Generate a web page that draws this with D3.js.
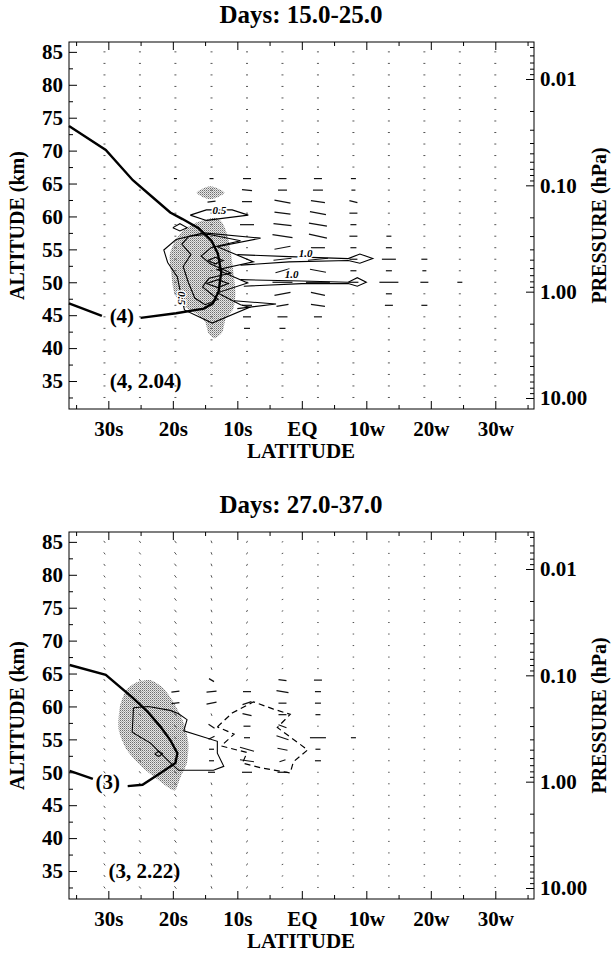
<!DOCTYPE html>
<html>
<head>
<meta charset="utf-8">
<script src="https://cdn.jsdelivr.net/npm/d3@7"></script>
<style>
body { margin: 0; background: #fff; }
text { font-family: "Liberation Serif", "Times New Roman", serif; font-weight: bold; fill: #000; }
</style>
</head>
<body>
<svg id="fig" width="613" height="953"></svg>
<script>
// axis ticks and labels
const latMajor = [-30, -20, -10, 0, 10, 20, 30];
const latLabels = ["30s", "20s", "10s", "EQ", "10w", "20w", "30w"];
const latMinor = [-35, -25, -15, -5, 5, 15, 25, 35];
const altMajor = [35, 40, 45, 50, 55, 60, 65, 70, 75, 80, 85];
const altMinor = [32.5, 37.5, 42.5, 47.5, 52.5, 57.5, 62.5, 67.5, 72.5, 77.5, 82.5];
const presMajor = [0.01, 0.1, 1, 10];
const presLabels = ["0.01", "0.10", "1.00", "10.00"];
const titles = ["Days: 15.0-25.0", "Days: 27.0-37.0"];

// wind vector grid
const gridLat = [-30.6, -25.1, -19.6, -14.0, -8.5, -3.0, 2.5, 8.0, 13.5, 19.0, 24.5, 30.0];
const gridAlt = [85, 83.25, 81.5, 79.75, 78, 76.25, 74.5, 72.75, 71, 69.25, 67.5, 65.75, 64, 62.25,
  60.5, 58.75, 57, 55.25, 53.5, 51.75, 50, 48.25, 46.5, 44.75, 43, 41.25, 39.5, 37.75, 36, 34.25, 32.5];

// panel 1 (days 15-25)
const p1ThickTail = [[-36.1, 46.8], [-31.0, 44.9]];
const p1Thick = [[-25.0, 44.6], [-19.5, 45.3], [-15.2, 46.0], [-13.8, 46.8], [-12.9, 48.6], [-12.5, 51.5],
  [-13.0, 54.3], [-14.0, 56.3], [-16.0, 58.2], [-18.5, 59.6], [-20.4, 60.6], [-23.0, 62.8], [-26.2, 65.5],
  [-30.4, 70.1], [-36.1, 73.75]];
const p1Shade = [[-13.5, 59.8], [-16.5, 59.0], [-18.5, 57.8], [-19.8, 56.0], [-20.5, 54.0], [-20.2, 51.0],
  [-19.8, 48.5], [-18.5, 46.5], [-16.5, 45.3], [-15.0, 44.0], [-14.5, 42.3], [-13.5, 41.5], [-12.3, 42.5],
  [-11.8, 44.5], [-10.6, 46.0], [-10.3, 48.5], [-10.6, 51.5], [-11.0, 54.5], [-11.5, 57.0], [-12.3, 59.0]];
const p1Blob = [[-16.3, 63.6], [-14.2, 64.6], [-12.0, 63.6], [-14.2, 62.6]];
const p1Contours = [
  [[-17.3, 60.2], [-14.8, 61.0], [-10.8, 61.0], [-8.3, 60.2], [-14.8, 59.4], [-17.3, 60.2]],
  [[-20.0, 58.3], [-18.9, 58.9], [-17.8, 58.3], [-18.9, 57.8], [-20.0, 58.3]],
  [[-15.2, 57.5], [-6.4, 56.7], [-13.1, 55.4], [-7.5, 53.1], [-13.1, 51.9], [-8.4, 49.9], [-13.1, 48.4],
   [-9.5, 46.6], [-8.1, 46.2], [-13.9, 43.8], [-18.2, 45.8], [-18.8, 48.4], [-19.3, 50.8], [-20.8, 53.0],
   [-21.4, 54.9], [-19.5, 56.5], [-15.2, 57.5]],
  [[-17.5, 57.0], [-14.5, 57.3], [-9.5, 56.3], [-14.0, 55.3], [-15.6, 54.0], [-14.2, 52.8], [-11.0, 51.4],
   [-14.4, 50.6], [-15.4, 49.3], [-13.0, 47.4], [-15.0, 46.6], [-16.6, 47.6], [-17.6, 50.0], [-18.4, 52.4],
   [-17.2, 54.2], [-18.6, 55.8], [-17.5, 57.0]],
  [[-14.6, 53.3], [-13.4, 53.8], [-12.2, 53.3], [-13.4, 52.8], [-14.6, 53.3]],
  [[-14.8, 49.8], [-13.0, 50.4], [-11.4, 49.8], [-13.0, 49.2], [-14.8, 49.8]],
  [[-10.0, 54.2], [-2.0, 53.9], [7.2, 53.6], [9.0, 54.3], [11.0, 53.6], [9.0, 52.9], [7.2, 53.3], [-2.0, 53.1], [-9.5, 52.6]],
  [[-9.5, 50.4], [0.0, 50.2], [7.2, 50.0], [8.6, 50.7], [10.0, 50.0], [8.6, 49.4], [7.2, 49.8], [0.0, 49.8], [-9.0, 49.4]],
  [[-10.5, 47.2], [-4.0, 46.7], [-10.0, 46.0]]
];
const p1ContourLabels = [["0.5", -12.8, 61.0, 0], ["1.0", 0.6, 54.4, 0], ["1.0", -1.6, 51.2, 0], ["0.5", -18.6, 47.6, 90]];
const p1Vectors = [
  [-19.6, 65.75, 3, 0], [-14.0, 65.75, 4, 0], [-8.5, 65.75, 8, 0], [-3.0, 65.75, 8, 0], [2.5, 65.75, 8, 0], [8.0, 65.75, 5, 0],
  [-8.5, 64, 10, -1], [-3.0, 64, 9, 0], [2.5, 64, 10, 0], [8.0, 64, 4, 0],
  [-14.0, 62.25, 8, 1], [-8.5, 62.25, 10, 0], [-3.0, 62.25, 16, -3], [2.5, 62.25, 14, -2], [8.0, 62.25, 8, -2],
  [-3.0, 60.5, 16, -2], [2.5, 60.5, 16, -3], [8.0, 60.5, 8, 0],
  [-8.5, 58.75, 14, 0], [-3.0, 58.75, 18, -2], [2.5, 58.75, 18, -3], [8.0, 58.75, 6, 0],
  [-3.0, 57, 20, -3], [2.5, 57, 18, -4], [8.0, 57, 8, 0], [13.5, 57, 5, 0],
  [-3.0, 55.25, 16, 3], [2.5, 55.25, 14, 0], [8.0, 55.25, 6, 0], [13.5, 55.25, 6, 0],
  [-3.0, 53.5, 18, 2], [2.5, 53.5, 20, 2], [8.0, 53.5, 8, 0], [13.5, 53.5, 14, 0], [19.0, 53.5, 6, 0],
  [-3.0, 51.75, 14, 4], [2.5, 51.75, 16, -3], [8.0, 51.75, 6, 0], [13.5, 51.75, 6, 0], [19.0, 51.75, 4, 0],
  [-3.0, 50, 20, 0], [2.5, 50, 24, 0], [8.0, 50, 10, 0], [13.5, 50, 19, 0], [19.0, 50, 8, 0], [24.5, 50, 5, 0],
  [-3.0, 48.25, 16, 3], [2.5, 48.25, 14, -3], [13.5, 48.25, 6, 0],
  [-8.5, 46.5, 10, 0], [-3.0, 46.5, 12, 2], [2.5, 46.5, 14, -2], [13.5, 46.5, 8, 0], [19.0, 46.5, 6, 0],
  [-8.5, 44.75, 8, 0], [-3.0, 44.75, 10, 0], [2.5, 44.75, 8, 0],
  [-8.5, 43, 6, 0], [-3.0, 43, 6, 0]
];
const p1Dot = gridLat.map(() => [2, 0]);
const p1Labels = [["(4)", -27.9, 45.0], ["(4, 2.04)", -24.2, 35.0]];

// panel 2 (days 27-37)
const p2ThickTail = [[-36.0, 50.2], [-32.4, 49.0]];
const p2Thick = [[-27.0, 47.9], [-24.7, 48.1], [-21.9, 49.9], [-19.6, 51.4], [-19.3, 52.9], [-20.4, 54.9],
  [-21.9, 56.9], [-23.9, 59.2], [-26.2, 61.3], [-30.4, 64.8], [-36.0, 66.3]];
const p2Shade = [[-25.5, 63.7], [-23.5, 64.0], [-21.5, 62.8], [-19.8, 60.5], [-18.3, 57.5], [-17.6, 54.5],
  [-17.8, 51.5], [-18.8, 49.3], [-19.6, 47.3], [-20.6, 47.6], [-22.5, 49.0], [-25.0, 51.0], [-27.2, 53.5],
  [-28.4, 56.5], [-28.2, 60.0], [-27.2, 62.5]];
const p2Contours = [
  [[-26.1, 59.8], [-23.8, 60.0], [-20.4, 59.4], [-19.1, 58.9], [-17.8, 58.0], [-18.3, 56.3], [-13.1, 54.7],
   [-13.1, 52.9], [-12.1, 50.9], [-13.7, 50.3], [-19.1, 50.3], [-19.9, 51.0], [-21.9, 52.9], [-23.4, 54.4],
   [-26.3, 56.1], [-26.1, 59.8]],
  [[-22.8, 52.8], [-22.2, 53.2], [-21.6, 52.8], [-22.2, 52.4], [-22.8, 52.8]]
];
const p2Dashed = [
  [[-13.1, 56.9], [-10.8, 59.0], [-7.5, 60.7], [-4.4, 59.6], [-1.8, 58.8], [-3.8, 56.8], [0.9, 53.4],
   [-1.3, 51.6], [-1.8, 49.9], [-6.4, 50.7], [-9.2, 51.4], [-8.5, 53.0], [-12.5, 54.0], [-10.5, 55.8], [-13.1, 56.9]]
];
const p2ContourLabels = [];
const p2Vectors = [
  [-19.6, 62.25, 8, 1], [-19.6, 60.5, 8, 1],
  [-14.0, 64, 5, -3], [-14.0, 62.25, 10, 1], [-14.0, 60.5, 10, 2], [-14.0, 57, 6, -4], [-14.0, 55.25, 6, 3],
  [-14.0, 53.5, 5, 0], [-14.0, 51.75, 5, 0], [-14.0, 50, 7, 0],
  [-8.5, 62.25, 8, 0], [-8.5, 60.5, 9, 3], [-8.5, 58.75, 9, -2], [-8.5, 57, 7, 0], [-8.5, 55.25, 6, 0],
  [-8.5, 53.5, 14, -4], [-8.5, 51.75, 14, -2], [-8.5, 50, 10, 0],
  [-3.0, 64, 8, -1], [-3.0, 62.25, 12, -2], [-3.0, 60.5, 8, 0], [-3.0, 58.75, 8, 0], [-3.0, 57, 8, -3],
  [-3.0, 55.25, 12, -4], [-3.0, 53.5, 10, -2], [-3.0, 51.75, 6, 2], [-3.0, 50, 10, 0],
  [2.5, 64, 8, 0], [2.5, 62.25, 6, 0], [2.5, 60.5, 6, 0], [2.5, 58.75, 5, 0], [2.5, 55.25, 16, 0],
  [2.5, 53.5, 5, 0], [2.5, 51.75, 6, 0], [8.0, 55.25, 5, 0]
];
const p2Dot = [[-1.5, 2], [-1.5, 2], [-2, 2.5], [-1, 2.5], [1, 2], [1.5, 0.5], [1.5, 0], [1.5, 0], [1.5, 0], [1.5, 0], [1.5, 0], [1.5, 0]];
const p2Labels = [["(3)", -30.1, 48.6], ["(3, 2.22)", -24.4, 35.0]];

// ---------------------------------------------------------------
const svg = d3.select("#fig");
const defs = svg.append("defs");
const pat = defs.append("pattern").attr("id", "stip").attr("width", 2).attr("height", 2)
  .attr("patternUnits", "userSpaceOnUse");
pat.append("rect").attr("width", 2).attr("height", 2).attr("fill", "#e6e6e6");
pat.append("rect").attr("width", 1).attr("height", 1).attr("fill", "#6e6e6e");
pat.append("rect").attr("x", 1).attr("y", 1).attr("width", 1).attr("height", 1).attr("fill", "#a8a8a8");

const plotL = 69, plotR = 534, plotT = 42, plotB = 409;
const x = d3.scaleLinear().domain([-36.1, 36]).range([plotL, plotR]);
const y = d3.scaleLinear().domain([30.75, 86.5]).range([plotB, plotT]);
const pBase = d3.scaleLog().domain([0.01, 10]).range([79, 398]);
const p = d3.scaleLog().domain([pBase.invert(plotT), pBase.invert(plotB)]).range([plotT, plotB]);
const presMinor = p.ticks().filter(t => Math.abs(Math.log10(t) - Math.round(Math.log10(t))) > 1e-6);

const line = d3.line().x(d => x(d[0])).y(d => y(d[1]));

function styleAxis(sel) {
  sel.select(".domain").remove();
  sel.attr("font-family", null).attr("font-size", 21);
  sel.selectAll("line").attr("stroke", "#000");
  return sel;
}

function drawPanel(offset, cfg) {
  const g = svg.append("g").attr("transform", `translate(0,${offset})`);

  g.append("text").attr("x", 301).attr("y", 23).attr("text-anchor", "middle")
    .attr("font-size", 25).text(cfg.title);

  // shading
  g.append("path").datum(cfg.shade)
    .attr("d", d3.line().x(d => x(d[0])).y(d => y(d[1])).curve(d3.curveCardinalClosed.tension(0.3)))
    .attr("fill", "url(#stip)");
  if (cfg.blob) {
    g.append("path").datum(cfg.blob)
      .attr("d", d3.line().x(d => x(d[0])).y(d => y(d[1])).curve(d3.curveCardinalClosed.tension(0.2)))
      .attr("fill", "url(#stip)");
  }

  // background vector dots
  const keyOf = (la, al) => la.toFixed(1) + "|" + al.toFixed(2);
  const used = new Set(cfg.vectors.map(v => keyOf(v[0], v[1])));
  const dots = d3.cross(gridLat.map((la, i) => [la, i]), gridAlt)
    .filter(([c, al]) => !used.has(keyOf(c[0], al)));
  g.append("g").selectAll("line").data(dots).join("line")
    .attr("x1", ([c, al]) => x(c[0]) - cfg.dot[c[1]][0] / 2)
    .attr("x2", ([c, al]) => x(c[0]) + cfg.dot[c[1]][0] / 2)
    .attr("y1", ([c, al]) => y(al) + cfg.dot[c[1]][1] / 2)
    .attr("y2", ([c, al]) => y(al) - cfg.dot[c[1]][1] / 2)
    .attr("stroke", "#555").attr("stroke-width", 1);

  // vectors
  g.append("g").selectAll("line").data(cfg.vectors).join("line")
    .attr("x1", d => x(d[0]) - d[2] / 2).attr("x2", d => x(d[0]) + d[2] / 2)
    .attr("y1", d => y(d[1]) + d[3] / 2).attr("y2", d => y(d[1]) - d[3] / 2)
    .attr("stroke", "#111").attr("stroke-width", 1.2);

  // contours
  g.append("g").selectAll("path").data(cfg.contours).join("path")
    .attr("d", line).attr("fill", "none").attr("stroke", "#000").attr("stroke-width", 1.1)
    .attr("stroke-linejoin", "miter");
  g.append("g").selectAll("path").data(cfg.dashed).join("path")
    .attr("d", line).attr("fill", "none").attr("stroke", "#000").attr("stroke-width", 1.2)
    .attr("stroke-dasharray", "6,4");
  g.append("g").selectAll("text").data(cfg.contourLabels).join("text")
    .attr("transform", d => `translate(${x(d[1])},${y(d[2])}) rotate(${d[3]})`)
    .attr("text-anchor", "middle").attr("dy", "0.35em")
    .attr("font-size", 11).attr("font-style", "italic").attr("font-weight", "normal")
    .attr("stroke", "#fff").attr("stroke-width", 3).attr("paint-order", "stroke")
    .text(d => d[0]);

  // thick line
  g.append("path").datum(cfg.thick).attr("d", line).attr("fill", "none")
    .attr("stroke", "#000").attr("stroke-width", 2.4);
  g.append("path").datum(cfg.tail).attr("d", line).attr("fill", "none")
    .attr("stroke", "#000").attr("stroke-width", 2.4);

  g.append("g").selectAll("text").data(cfg.labels).join("text")
    .attr("x", d => x(d[1])).attr("y", d => y(d[2])).attr("dy", "0.35em")
    .attr("text-anchor", "middle").attr("font-size", 21).text(d => d[0]);

  // frame and axes
  g.append("rect").attr("x", plotL).attr("y", plotT).attr("width", plotR - plotL).attr("height", plotB - plotT)
    .attr("fill", "none").attr("stroke", "#000").attr("stroke-width", 1);

  g.append("g").attr("transform", `translate(0,${plotB})`)
    .call(d3.axisBottom(x).tickValues(latMajor).tickFormat((d, i) => latLabels[i])
      .tickSizeInner(-8).tickSizeOuter(0).tickPadding(12)).call(styleAxis);
  g.append("g").attr("transform", `translate(0,${plotB})`)
    .call(d3.axisBottom(x).tickValues(latMinor).tickFormat("").tickSize(-4)).call(styleAxis);
  g.append("g").attr("transform", `translate(0,${plotT})`)
    .call(d3.axisTop(x).tickValues(latMajor).tickFormat("").tickSize(-8)).call(styleAxis);
  g.append("g").attr("transform", `translate(0,${plotT})`)
    .call(d3.axisTop(x).tickValues(latMinor).tickFormat("").tickSize(-4)).call(styleAxis);

  g.append("g").attr("transform", `translate(${plotL},0)`)
    .call(d3.axisLeft(y).tickValues(altMajor).tickSizeInner(-8).tickSizeOuter(0).tickPadding(6)).call(styleAxis);
  g.append("g").attr("transform", `translate(${plotL},0)`)
    .call(d3.axisLeft(y).tickValues(altMinor).tickFormat("").tickSize(-4)).call(styleAxis);

  g.append("g").attr("transform", `translate(${plotR},0)`)
    .call(d3.axisRight(p).tickValues(presMajor).tickFormat((d, i) => presLabels[i])
      .tickSizeInner(-8).tickSizeOuter(0).tickPadding(6)).call(styleAxis);
  g.append("g").attr("transform", `translate(${plotR},0)`)
    .call(d3.axisRight(p).tickValues(presMinor).tickFormat("").tickSize(-4)).call(styleAxis);

  g.append("text").attr("transform", `translate(17,${(plotT + plotB) / 2}) rotate(-90)`)
    .attr("text-anchor", "middle").attr("dy", "0.35em").attr("font-size", 20).text("ALTITUDE (km)");
  g.append("text").attr("transform", `translate(599,${(plotT + plotB) / 2}) rotate(-90)`)
    .attr("text-anchor", "middle").attr("dy", "0.35em").attr("font-size", 20).text("PRESSURE (hPa)");
  g.append("text").attr("x", 301).attr("y", 458).attr("text-anchor", "middle")
    .attr("font-size", 21).text("LATITUDE");
}

drawPanel(0, {
  title: titles[0], shade: p1Shade, blob: p1Blob, vectors: p1Vectors, dot: p1Dot,
  contours: p1Contours, dashed: [], contourLabels: p1ContourLabels,
  thick: p1Thick, tail: p1ThickTail, labels: p1Labels
});
drawPanel(490, {
  title: titles[1], shade: p2Shade, blob: null, vectors: p2Vectors, dot: p2Dot,
  contours: p2Contours, dashed: p2Dashed, contourLabels: p2ContourLabels,
  thick: p2Thick, tail: p2ThickTail, labels: p2Labels
});
</script>
</body>
</html>
